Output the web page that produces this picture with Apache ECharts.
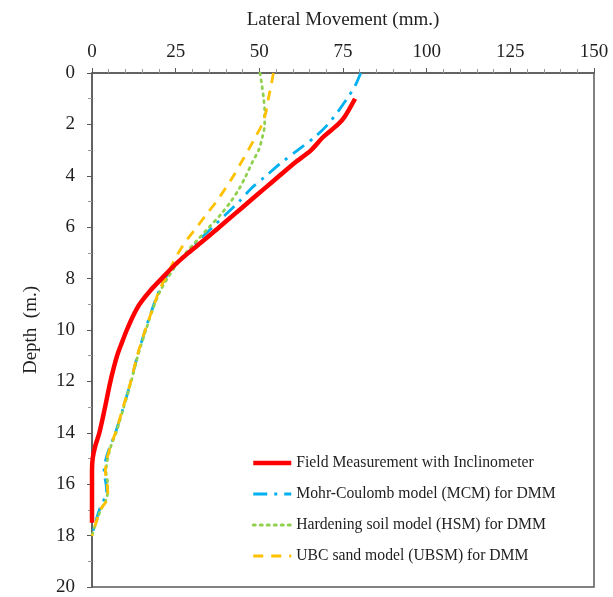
<!DOCTYPE html>
<html><head><meta charset="utf-8">
<script src="https://cdn.jsdelivr.net/npm/echarts@6/dist/echarts.min.js"></script>
<style>html,body{margin:0;padding:0;background:#fff}#c{width:613px;height:597px}</style>
</head><body><div id="c"></div>
<script>
// Depth (m) and lateral movement (mm) for each series
const fieldDepth = [1.0,1.7,2.0,2.5,3.0,3.5,4.0,4.5,5.0,5.5,6.0,6.5,7.0,7.5,8.0,8.5,9.0,9.5,10,10.5,11,12,13,14,14.5,15,15.5,17.5];
const fieldMove  = [78.6,75.5,73.5,69,65.5,60.5,56,51.5,47,42.5,38,33.5,28.8,24.5,20.8,17.2,14.2,12.1,10.4,8.9,7.5,5.5,3.9,2.2,1,0.2,0,0];

const mcmDepth = [0,0.5,1,1.5,2,2.5,3,3.5,4,4.5,5,5.5,6,6.5,7,7.5,8,8.5,9,10,11,12,13,14,14.5,15,15.5,16,16.4,16.6,17,17.5,18];
const mcmMove  = [80.3,78.6,76.2,73.5,70.5,66.5,61.5,56.5,52,47.5,44,40,36,32,28.5,24.5,21.8,20,18.5,15.9,13.6,11.6,9.4,7,5.5,4.2,3.6,4.2,4.4,3.6,2.2,1,0];

const hsmDepth = [0,0.5,1,1.5,2,2.5,3,3.5,4,4.5,5,5.5,6,6.5,7,7.5,8,8.5,9,10,11,12,13,14,14.5,15,15.5,16,16.5,17,17.5,18];
const hsmMove  = [50.2,50.8,51.3,51.6,51.6,50.9,49.8,47.8,46,44,41.5,38.5,35,31.5,28,25,22.5,20.3,18.7,16.1,13.7,11.7,9.5,7.2,5.7,4.7,4.2,4.7,4.5,2.6,1.2,0];

const ubsmDepth = [0,0.5,1,1.5,2,2.5,3,3.5,4,4.5,5,5.5,6,6.5,7,7.5,8,8.5,9,10,11,12,13,14,14.5,15,15.5,16,16.5,17,17.5,18];
const ubsmMove  = [54.2,53.5,52.7,52,50.8,48.8,46.7,44.5,42.3,39.8,37.2,34.2,31.3,28.3,25.8,23.8,21.8,20,18.6,15.9,13.5,11.6,9.3,7,5.6,4.5,4,4.5,4.8,2.5,1.2,0];

const seriesNames = [
  'Field Measurement with Inclinometer',
  'Mohr-Coulomb model (MCM) for DMM',
  'Hardening soil model (HSM) for DMM',
  'UBC sand model (UBSM) for DMM'
];

function pairs(m, d){ return m.map((v,i)=>[v,d[i]]); }

const font = 'Liberation Serif, Times New Roman, serif';
const axisCol = '#595959';
const txtCol = '#1f1f1f';
const chart = echarts.init(document.getElementById('c'), null, {renderer:'canvas'});
chart.setOption({
  animation:false,
  backgroundColor:'#fff',
  grid:{left:92, top:73, right:19, bottom:10, show:true, borderColor:axisCol, borderWidth:1.5},
  xAxis:{
    type:'value', position:'top', min:0, max:150, interval:25,
    name:'Lateral Movement (mm.)', nameLocation:'middle', nameGap:43,
    nameTextStyle:{fontFamily:font, fontSize:19, color:txtCol},
    axisLine:{show:true, lineStyle:{color:axisCol, width:1.5}},
    axisTick:{show:true, inside:false, length:5, lineStyle:{color:axisCol}},
    minorTick:{show:true, splitNumber:5, length:4, lineStyle:{color:'#999'}},
    splitLine:{show:false},
    axisLabel:{fontFamily:font, fontSize:19, color:txtCol, margin:11}
  },
  yAxis:{
    type:'value', inverse:true, min:0, max:20, interval:2,
    name:'Depth  (m.)', nameLocation:'middle', nameGap:51, nameRotate:90,
    nameTextStyle:{fontFamily:font, fontSize:19, color:txtCol},
    axisLine:{show:true, lineStyle:{color:axisCol, width:1.5}},
    axisTick:{show:true, inside:false, length:5, lineStyle:{color:axisCol}},
    minorTick:{show:true, splitNumber:2, length:4, lineStyle:{color:'#999'}},
    splitLine:{show:false},
    axisLabel:{fontFamily:font, fontSize:19, color:txtCol, margin:17}
  },
  legend:{
    orient:'vertical', left:246, top:450, itemWidth:38, itemHeight:14, itemGap:15,
    itemStyle:{opacity:0},
    textStyle:{fontFamily:font, fontSize:15.7, color:txtCol},
    data:[
      {name:seriesNames[0], lineStyle:{width:4.5}},
      {name:seriesNames[1], lineStyle:{width:3}},
      {name:seriesNames[2], lineStyle:{width:3}},
      {name:seriesNames[3], lineStyle:{width:3}}
    ]
  },
  series:[
    {name:seriesNames[0], type:'line', data:pairs(fieldMove, fieldDepth), symbol:'none', smooth:0.3,
     lineStyle:{color:'#FF0000', width:4.5}, itemStyle:{color:'#FF0000'}, z:5},
    {name:seriesNames[1], type:'line', data:pairs(mcmMove, mcmDepth), symbol:'none', smooth:0.3,
     lineStyle:{color:'#00B0F0', width:2.8, type:[14,7,3,7]}, itemStyle:{color:'#00B0F0'}},
    {name:seriesNames[2], type:'line', data:pairs(hsmMove, hsmDepth), symbol:'none', smooth:0.3,
     lineStyle:{color:'#92D050', width:2.8, type:[2,5], cap:'round'}, itemStyle:{color:'#92D050'}},
    {name:seriesNames[3], type:'line', data:pairs(ubsmMove, ubsmDepth), symbol:'none', smooth:0.3,
     lineStyle:{color:'#FFC000', width:2.8, type:[10,8]}, itemStyle:{color:'#FFC000'}}
  ]
});
</script></body></html>
